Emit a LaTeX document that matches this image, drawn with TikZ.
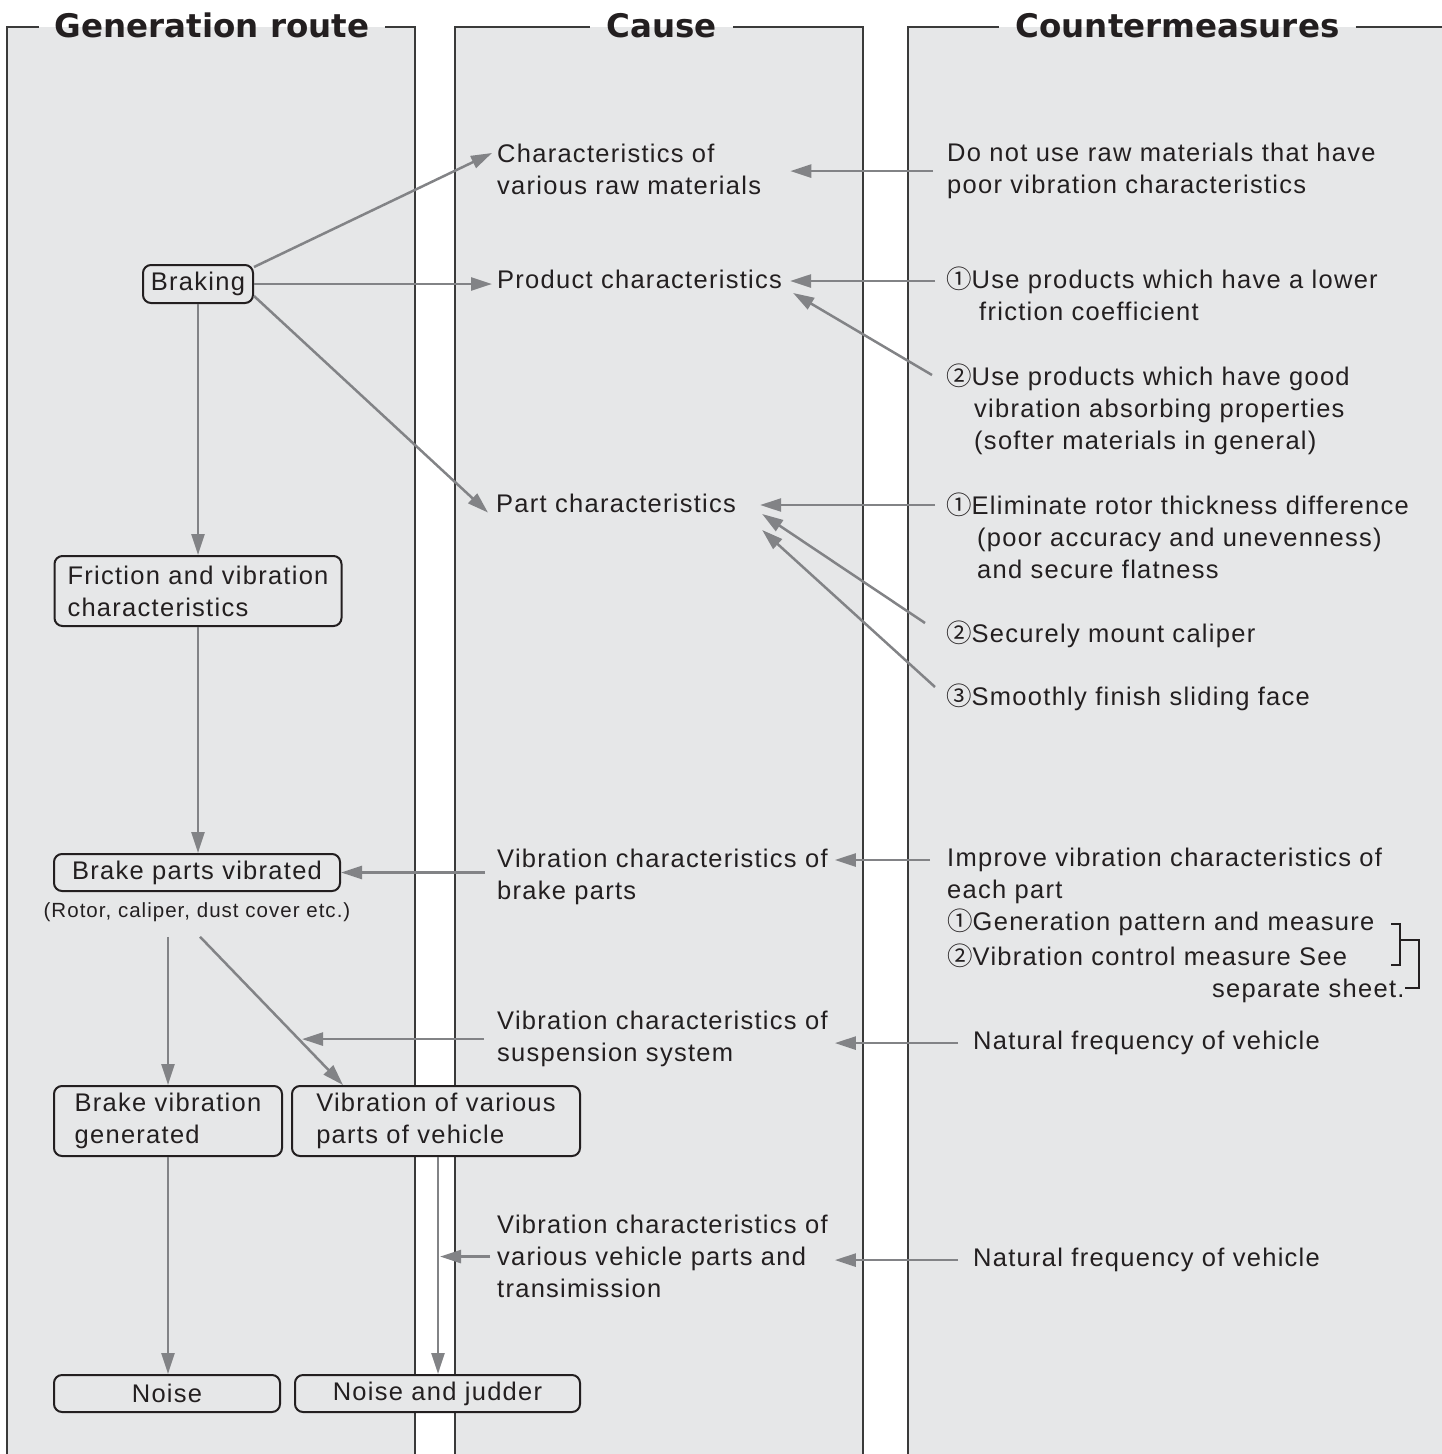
\documentclass[tikz,border=0pt]{standalone}
\usepackage{fontspec}
\setmainfont{Liberation Sans}[LetterSpace=5]
\newfontfamily\headfont{DejaVu Sans}
\newfontfamily\symfont{Noto Sans CJK JP}
\usetikzlibrary{arrows.meta}
\definecolor{panelgray}{HTML}{E6E7E8}
\definecolor{edgegray}{HTML}{828386}
\definecolor{framegray}{HTML}{3A3A3A}
\definecolor{inkblack}{HTML}{231F20}
\newcommand{\circone}{{\symfont ①}}
\newcommand{\circtwo}{{\symfont ②}}
\newcommand{\circthree}{{\symfont ③}}
\tikzset{
  every node/.style = {text=inkblack, inner sep=0pt,
                       font=\fontsize{25.5}{32}\selectfont},
  PanelStyle/.style = {fill=panelgray},
  FrameStyle/.style = {draw=framegray, line width=1.5pt},
  HeadStyle/.style  = {font=\headfont\bfseries\fontsize{32.5}{40}\selectfont,
                       inner xsep=16pt, anchor=base},
  BoxStyle/.style   = {draw=inkblack, line width=2pt, rounded corners=8pt,
                       fill=panelgray, align=left},
  TextStyle/.style  = {anchor=north west, align=left},
  EdgeStyle/.style  = {draw=edgegray, line width=2.5pt,
                       -{Triangle[length=21pt,width=13pt]}}
}

\begin{document}
\begin{tikzpicture}[x=1pt, y=-1pt]
	\useasboundingbox (0,0) rectangle (1442,1454);
	\fill[PanelStyle] (7,27) rectangle (415,1454);
	\fill[PanelStyle] (455,27) rectangle (863,1454);
	\fill[PanelStyle] (908,27) rectangle (1442,1454);
	\coordinate (T) at (0,27);
	\node[HeadStyle] (HG) at (212,37) {Generation route};
	\node[HeadStyle] (HC) at (661.5,37) {Cause};
	\node[HeadStyle] (HM) at (1177.5,37) {Countermeasures};
	\draw[FrameStyle] (7,1456) -- (7,27) -- (HG.west |- T);
	\draw[FrameStyle] (HG.east |- T) -- (415,27) -- (415,1456);
	\draw[FrameStyle] (455,1456) -- (455,27) -- (HC.west |- T);
	\draw[FrameStyle] (HC.east |- T) -- (863,27) -- (863,1456);
	\draw[FrameStyle] (908,1456) -- (908,27) -- (HM.west |- T);
	\draw[FrameStyle] (HM.east |- T) -- (1444,27);

	\node[BoxStyle, minimum width=110pt, minimum height=38pt] (BR) at (198,284) {Braking};
	\node[BoxStyle, minimum width=287pt, minimum height=70pt] (FV) at (198,591) {Friction and vibration\\characteristics};
	\node[BoxStyle, minimum width=286pt, minimum height=37pt] (BPV) at (197,872.5) {Brake parts vibrated};
	\node[font=\fontsize{20.5}{24}\selectfont] (RC) at (197,912) {(Rotor, caliper, dust cover etc.)};
	\node[BoxStyle, minimum width=228pt, minimum height=70pt] (BVG) at (168,1121) {Brake vibration\\generated};
	\node[BoxStyle, minimum width=288pt, minimum height=70pt] (VVP) at (436,1121) {Vibration of various\\parts of vehicle};
	\node[BoxStyle, minimum width=226pt, minimum height=37pt] (N) at (167,1393.5) {Noise};
	\node[BoxStyle, minimum width=285pt, minimum height=37pt] (NJ) at (437.5,1393.5) {Noise and judder};

	\node[TextStyle] (C1) at (497,144) {Characteristics of\\various raw materials};
	\node[TextStyle] (C2) at (497,270) {Product characteristics};
	\node[TextStyle] (C3) at (496,494) {Part characteristics};
	\node[TextStyle] (C4) at (497,849) {Vibration characteristics of\\brake parts};
	\node[TextStyle] (C5) at (497,1011) {Vibration characteristics of\\suspension system};
	\node[TextStyle] (C6) at (497,1215) {Vibration characteristics of\\various vehicle parts and\\transimission};

	\node[TextStyle] (M1) at (947,143) {Do not use raw materials that have\\poor vibration characteristics};
	\node[TextStyle] (M2) at (946,267) {\circone Use products which have a lower\\\hspace*{33pt}friction coefficient};
	\node[TextStyle] (M3) at (946,364) {\circtwo Use products which have good\\\hspace*{28pt}vibration absorbing properties\\\hspace*{28pt}(softer materials in general)};
	\node[TextStyle] (M4) at (946,493) {\circone Eliminate rotor thickness difference\\\hspace*{31pt}(poor accuracy and unevenness)\\\hspace*{31pt}and secure flatness};
	\node[TextStyle] (M5) at (946,621) {\circtwo Securely mount caliper};
	\node[TextStyle] (M6) at (946,684) {\circthree Smoothly finish sliding face};
	\node[TextStyle] (M7) at (947,848) {Improve vibration characteristics of\\each part\\\circone Generation pattern and measure\\[3pt]\circtwo Vibration control measure See\\\hspace*{265pt}separate sheet.};
	\node[TextStyle] (M8) at (973,1031) {Natural frequency of vehicle};
	\node[TextStyle] (M9) at (973,1248) {Natural frequency of vehicle};

	\draw[EdgeStyle] ([yshift=-3pt]BR.north east) -- ([xshift=-5pt,yshift=-9pt]C1.north west);
	\draw[EdgeStyle] (BR.east) -- ([xshift=-5pt]BR.east -| C2.west);
	\draw[EdgeStyle] ([yshift=-12pt]BR.east) -- ([xshift=-8pt,yshift=-9pt]C3.west);
	\draw[EdgeStyle] (BR.south) -- (BR.south |- FV.north);
	\draw[EdgeStyle] (FV.south) -- (FV.south |- BPV.north);

	\coordinate (R1) at ([yshift=-15pt]RC.south -| BVG.north);
	\coordinate (R2) at ([xshift=3pt,yshift=-15pt]RC.south);
	\coordinate (VT) at ([xshift=-93pt]VVP.north);
	\draw[EdgeStyle] (R1) -- (BVG.north);
	\draw[EdgeStyle] (R2) -- (VT);
	\draw[EdgeStyle] (BVG.south) -- (BVG.south |- N.north);
	\draw[EdgeStyle] ([xshift=2pt]VVP.south) -- ([xshift=2pt]VVP.south |- NJ.north);

	\draw[EdgeStyle] ([xshift=-12pt]BPV.east -| C4.west) -- (BPV.east);
	\draw[EdgeStyle] ([xshift=-13pt]C5.west) -- ([xshift=-41pt]C5.west -| VT);
	\draw[EdgeStyle] ([xshift=-7pt]C6.west) -- ([xshift=4pt]C6.west -| VVP.south);

	\draw[EdgeStyle] ([xshift=-14pt]M1.west) -- ([xshift=29pt]M1.west -| C1.east);
	\draw[EdgeStyle] ([xshift=-11pt,yshift=-14pt]M2.north west) -- ([xshift=8pt,yshift=-14pt]M2.north west -| C2.east);
	\draw[EdgeStyle] ([xshift=-14pt,yshift=-11pt]M3.north west) -- ([xshift=11pt,yshift=-23pt]C2.north east);
	\draw[EdgeStyle] ([xshift=-11pt,yshift=-12pt]M4.north west) -- ([xshift=24pt,yshift=-12pt]M4.north west -| C3.east);
	\draw[EdgeStyle] ([xshift=-21pt,yshift=-2pt]M5.north west) -- ([xshift=26pt,yshift=-20pt]C3.north east);
	\draw[EdgeStyle] ([xshift=-11pt,yshift=-3pt]M6.north west) -- ([xshift=26pt,yshift=-36pt]C3.north east);
	\draw[EdgeStyle] ([xshift=-17pt,yshift=-12pt]M7.north west) -- ([xshift=7pt,yshift=-12pt]M7.north west -| C4.east);
	\draw[EdgeStyle] ([xshift=-15pt]M8.west) -- ([xshift=7pt]M8.west -| C5.east);
	\draw[EdgeStyle] ([xshift=-15pt]M9.west) -- ([xshift=7pt]M9.west -| C6.east);

	\draw[inkblack, line width=2pt] (1391,924) -- (1400,924) -- (1400,965) -- (1391,965);
	\draw[inkblack, line width=1.5pt] (1400,940) -- (1419,940) -- (1419,988) -- (1405,988);
\end{tikzpicture}
\end{document}
